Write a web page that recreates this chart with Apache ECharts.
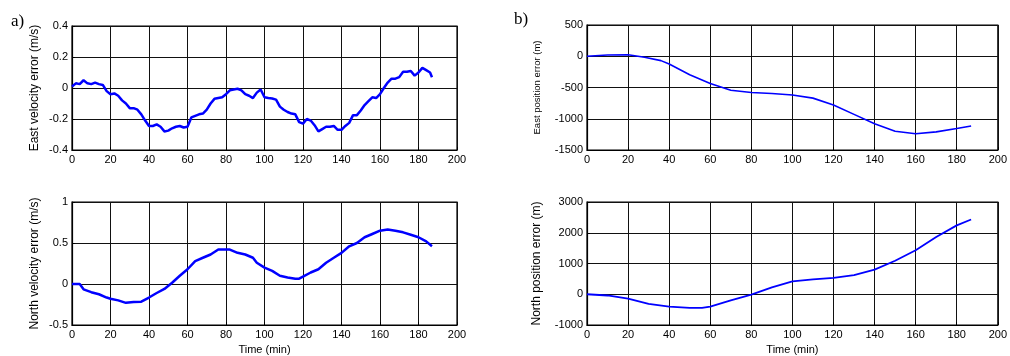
<!DOCTYPE html>
<html><head><meta charset="utf-8">
<script src="https://cdn.jsdelivr.net/npm/echarts@6/dist/echarts.min.js"></script>
<style>html,body{margin:0;padding:0;background:#fff}#c{width:1010px;height:356px}</style>
</head><body><div id="c"></div>
<script>
// ---- data ----
const tEastVel = [0,2,4,6,8,10,12,14,16,18,20,22,24,26,28,30,32,34,36,38,40,42,44,46,48,50,52,54,56,58,60,62,64,66,68,70,72,74,76,78,80,82,84,86,88,90,92,94,96,98,100,102,104,106,108,110,112,114,116,118,120,122,124,126,128,130,132,134,136,138,140,142,144,146,148,150,152,154,156,158,160,162,164,166,168,170,172,174,176,178,180,182,184,186,187];
const eastVel = [0.01,0.03,0.025,0.05,0.03,0.025,0.035,0.025,0.02,-0.02,-0.04,-0.035,-0.05,-0.08,-0.1,-0.13,-0.13,-0.14,-0.17,-0.21,-0.245,-0.245,-0.235,-0.25,-0.28,-0.275,-0.26,-0.25,-0.245,-0.255,-0.25,-0.19,-0.18,-0.17,-0.165,-0.14,-0.1,-0.07,-0.065,-0.06,-0.04,-0.015,-0.01,-0.005,-0.015,-0.04,-0.05,-0.065,-0.03,-0.01,-0.06,-0.065,-0.068,-0.075,-0.12,-0.14,-0.155,-0.165,-0.17,-0.22,-0.23,-0.2,-0.21,-0.24,-0.28,-0.265,-0.25,-0.25,-0.245,-0.27,-0.27,-0.245,-0.225,-0.175,-0.175,-0.145,-0.11,-0.085,-0.06,-0.065,-0.04,0.0,0.035,0.06,0.06,0.07,0.105,0.105,0.11,0.08,0.1,0.13,0.115,0.1,0.07];

const tNorthVel = [0,4,6,10,14,18,20,24,28,32,36,40,44,48,52,56,60,64,68,72,76,80,82,86,90,94,96,100,104,108,112,116,118,120,124,128,132,136,140,144,148,152,156,160,164,168,172,176,180,184,187];
const northVel = [0,0,-0.065,-0.1,-0.125,-0.165,-0.18,-0.2,-0.23,-0.22,-0.215,-0.165,-0.11,-0.06,0.015,0.1,0.18,0.28,0.32,0.36,0.42,0.42,0.42,0.38,0.36,0.32,0.26,0.2,0.16,0.1,0.08,0.065,0.065,0.09,0.14,0.18,0.26,0.32,0.38,0.46,0.5,0.57,0.61,0.65,0.665,0.65,0.63,0.6,0.57,0.52,0.46];

const tEastPos = [0,10,20,28,36,40,50,60,70,80,90,100,110,120,130,140,150,160,170,180,187];
const eastPos = [0,20,25,-15,-70,-125,-295,-435,-545,-580,-595,-620,-670,-780,-930,-1080,-1200,-1240,-1210,-1155,-1115];

const tNorthPos = [0,10,20,30,40,50,56,60,70,80,90,100,110,120,130,140,150,160,170,180,187];
const northPos = [0,-40,-140,-310,-400,-440,-440,-400,-200,-10,225,420,485,530,625,800,1090,1430,1860,2240,2430];

const xTicks = {min:0, max:200, interval:20};
// ---- chart ----
const font = 'Liberation Sans, Arial, sans-serif';
function pairs(t, v){ return t.map((x,i)=>[x, v[i]]); }
const plain = v => String(Math.round(v*1000)/1000);
const grids = [
  {left:72, top:26, width:385, height:124},
  {left:72, top:202, width:385, height:125},
  {left:587, top:25, width:412, height:125},
  {left:587, top:202, width:412, height:124}
].map(g => Object.assign({show:true, borderColor:'#000', borderWidth:1.2, backgroundColor:'#fff'}, g));

function xAx(i, named){
  return {type:'value', gridIndex:i, min:xTicks.min, max:xTicks.max, interval:xTicks.interval,
    axisLine:{show:true, onZero:false, lineStyle:{color:'#000', width:1.2}},
    axisTick:{show:true, inside:true, length:3, lineStyle:{color:'#000'}},
    axisLabel:{color:'#000', fontFamily:font, fontSize:11, margin:4, formatter:plain},
    splitLine:{show:true, lineStyle:{color:'#111', width:1}},
    name: named ? 'Time (min)' : '', nameLocation:'middle', nameGap:19,
    nameTextStyle:{color:'#000', fontFamily:font, fontSize:11}};
}
function yAx(i, min, max, interval, name, gap, fs){
  return {type:'value', gridIndex:i, min:min, max:max, interval:interval,
    axisLine:{show:true, onZero:false, lineStyle:{color:'#000', width:1.2}},
    axisTick:{show:true, inside:true, length:3, lineStyle:{color:'#000'}},
    axisLabel:{color:'#000', fontFamily:font, fontSize:11, margin:4, formatter:plain},
    splitLine:{show:true, lineStyle:{color:'#111', width:1}},
    name:name, nameLocation:'middle', nameGap:gap, nameRotate:90,
    nameTextStyle:{color:'#000', fontFamily:font, fontSize:fs}};
}
function ser(i, t, v, w){
  return {type:'line', xAxisIndex:i, yAxisIndex:i, data:pairs(t,v), showSymbol:false, symbol:'none',
    lineStyle:{color:'#0000ff', width:w}, animation:false};
}
const chart = echarts.init(document.getElementById('c'));
chart.setOption({
  animation:false,
  backgroundColor:'#fff',
  title:[
    {text:'a)', left:6, top:8, textStyle:{fontFamily:'Liberation Serif, Times New Roman, serif', fontSize:17, fontWeight:'normal', color:'#000'}},
    {text:'b)', left:509, top:6, textStyle:{fontFamily:'Liberation Serif, Times New Roman, serif', fontSize:17, fontWeight:'normal', color:'#000'}}
  ],
  grid:grids,
  xAxis:[xAx(0,false), xAx(1,true), xAx(2,false), xAx(3,true)],
  yAxis:[
    yAx(0,-0.4,0.4,0.2,'East velocity error (m/s)',31,12),
    yAx(1,-0.5,1,0.5,'North velocity error (m/s)',31,12),
    yAx(2,-1500,500,500,'East position error (m)',45,9.5),
    yAx(3,-1000,3000,1000,'North position error (m)',44,12)
  ],
  series:[
    ser(0,tEastVel,eastVel,2.5),
    ser(1,tNorthVel,northVel,2.5),
    ser(2,tEastPos,eastPos,1.6),
    ser(3,tNorthPos,northPos,1.8)
  ]
});
</script></body></html>
